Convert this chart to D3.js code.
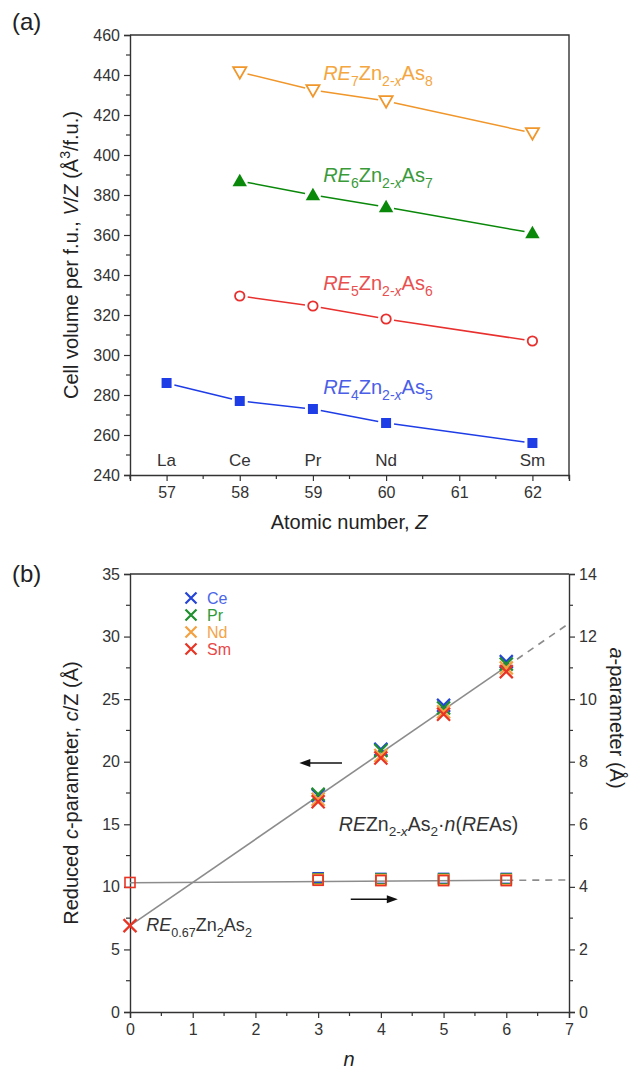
<!DOCTYPE html>
<html>
<head>
<meta charset="utf-8">
<script src="https://cdn.jsdelivr.net/npm/d3@7"></script>
<style>
body{margin:0;background:#fff}
svg{display:block;font-family:"Liberation Sans",Arial,sans-serif}
</style>
</head>
<body>
<svg id="chart" width="642" height="1069"></svg>
<script>
// ---- panel (a) data ----
const elements = ["La","Ce","Pr","Nd","Sm"];
const zAll = [57,58,59,60,62];
const zCeSm = [58,59,60,62];
const vol4 = [286,277,273,266,256];
const vol5 = [329.5,324.5,318,307];
const vol6 = [387,380,374,361];
const vol7 = [441.5,432.5,427,411];
const zTicks = [57,58,59,60,61,62];
const volTicks = [240,260,280,300,320,340,360,380,400,420,440,460];

// ---- panel (b) data ----
const nVals = [3,4,5,6];
const cCe = [17.3,21.0,24.5,28.0];
const cPr = [17.4,20.9,24.3,27.8];
const cNd = [17.0,20.5,24.0,27.5];
const cSm = [16.8,20.3,23.8,27.2];
const aCe = [4.29,4.27,4.27,4.27];
const aPr = [4.26,4.25,4.25,4.25];
const aNd = [4.24,4.23,4.23,4.23];
const aSm = [4.21,4.20,4.20,4.20];
const c0 = 6.9, a0 = 4.14;          // RE0.67Zn2As2, n = 0
const fitN = [0,6,7];
const fitC = [6.9,27.6,31.05];
const fitA = [4.13,4.21,4.22];
const nTicks = [0,1,2,3,4,5,6,7];
const cTicks = [0,5,10,15,20,25,30,35];
const aTicks = [0,2,4,6,8,10,12,14];

const svg = d3.select("#chart");
const ink = "#333";

// rich text helper: parts = [[text, flags]] flags: i italic, s sub, p sup
function rich(g, x, y, parts, size, color, anchor) {
    const t = g.append("text").attr("x", x).attr("y", y)
        .attr("fill", color).style("font-size", size + "px")
        .attr("text-anchor", anchor || "start");
    let off = 0;
    parts.forEach(([txt, f]) => {
        f = f || "";
        let want = f.includes("s") ? size*0.3 : f.includes("p") ? -size*0.4 : 0;
        const sp = t.append("tspan").text(txt).attr("dy", want - off);
        off = want;
        if (f.includes("s") || f.includes("p")) sp.style("font-size", (size*0.7) + "px");
        if (f.includes("i")) sp.style("font-style", "italic");
    });
    return t;
}

function minorTicks(g, vals, pos, horiz, len) {
    vals.forEach(v => {
        const p = pos(v);
        if (horiz) g.append("line").attr("x1", p).attr("x2", p).attr("y1", 0).attr("y2", len);
        else g.append("line").attr("y1", p).attr("y2", p).attr("x1", 0).attr("x2", len);
    });
    g.selectAll("line").attr("stroke", ink).attr("stroke-width", 1.2);
}

function styleAxis(g) {
    g.selectAll(".domain").attr("stroke", ink).attr("stroke-width", 1.4);
    g.selectAll(".tick line").attr("stroke", ink).attr("stroke-width", 1.2);
    g.selectAll(".tick text").attr("fill", ink).style("font-size", "16px")
        .style("font-family", "'Liberation Sans',Arial,sans-serif");
}

// ================= panel (a) =================
const xa = d3.scaleLinear().domain([56.5,62.5]).range([130,569]);
const ya = d3.scaleLinear().domain([240,460]).range([475,35]);

const gaX = svg.append("g").attr("transform","translate(0,475)")
    .call(d3.axisBottom(xa).tickValues(zTicks).tickFormat(d3.format("d")).tickSize(6).tickPadding(6));
styleAxis(gaX);
minorTicks(svg.append("g").attr("transform","translate(0,475)"), [56.5,57.5,58.5,59.5,60.5,61.5,62.5], xa, true, 4);
const gaY = svg.append("g").attr("transform","translate(130,0)")
    .call(d3.axisLeft(ya).tickValues(volTicks).tickSize(6).tickPadding(4));
styleAxis(gaY);
minorTicks(svg.append("g").attr("transform","translate(130,0)"), [250,270,290,310,330,350,370,390,410,430,450], ya, false, -4);
svg.append("path").attr("d", `M130,35H569V475`).attr("fill","none").attr("stroke",ink).attr("stroke-width",1.4);

// lines with small gaps at markers
function gapLine(g, xs, ys, sx, sy, color, gap) {
    for (let i = 0; i < xs.length-1; i++) {
        const x1 = sx(xs[i]), y1 = sy(ys[i]), x2 = sx(xs[i+1]), y2 = sy(ys[i+1]);
        const L = Math.hypot(x2-x1, y2-y1), ux = (x2-x1)/L, uy = (y2-y1)/L;
        g.append("line").attr("x1", x1+ux*gap).attr("y1", y1+uy*gap)
            .attr("x2", x2-ux*gap).attr("y2", y2-uy*gap)
            .attr("stroke", color).attr("stroke-width", 1.5);
    }
}

const series = [
    {z: zAll, v: vol4, col: "#1f3de6", txt: "#4a5ee8", sym: d3.symbolSquare, fill: true, lab: [["RE","i"],["4","s"],["Zn"],["2-","s"],["x","si"],["As"],["5","s"]], ly: 280.5},
    {z: zCeSm, v: vol5, col: "#e8302e", txt: "#e85050", sym: d3.symbolCircle, fill: false, lab: [["RE","i"],["5","s"],["Zn"],["2-","s"],["x","si"],["As"],["6","s"]], ly: 332.5},
    {z: zCeSm, v: vol6, col: "#0a880a", txt: "#3a9a3a", sym: d3.symbolTriangle, fill: true, lab: [["RE","i"],["6","s"],["Zn"],["2-","s"],["x","si"],["As"],["7","s"]], ly: 386.5},
    {z: zCeSm, v: vol7, col: "#f0962a", txt: "#f4a640", sym: d3.symbolTriangle, fill: false, down: true, lab: [["RE","i"],["7","s"],["Zn"],["2-","s"],["x","si"],["As"],["8","s"]], ly: 437.5}
];

series.forEach(s => {
    const g = svg.append("g");
    gapLine(g, s.z, s.v, xa, ya, s.col, 8);
    g.selectAll("path.m").data(s.z).enter().append("path")
        .attr("class","m")
        .attr("d", d3.symbol().type(s.sym).size(s.sym === d3.symbolTriangle ? (s.fill ? 90 : 75) : s.fill ? 100 : 70))
        .attr("transform", (d,i) => `translate(${xa(d)},${ya(s.v[i]) + (s.sym === d3.symbolTriangle ? (s.down ? -1 : 1) : 0)})` + (s.down ? " rotate(180)" : ""))
        .attr("fill", s.fill ? s.col : "#fff")
        .attr("stroke", s.col).attr("stroke-width", s.fill ? 0 : 1.8);
    rich(svg, xa(59.14), ya(s.ly), s.lab, 20, s.txt);
});

// element names
svg.append("g").selectAll("text").data(elements).enter().append("text")
    .attr("x", (d,i) => xa(zAll[i])).attr("y", ya(244.5))
    .attr("text-anchor","middle").attr("fill", ink).style("font-size","17px")
    .text(d => d);

svg.append("text").attr("x", 12).attr("y", 30).style("font-size","24px").attr("fill","#222").text("(a)");
svg.append("text").attr("x", 349).attr("y", 529).attr("text-anchor","middle")
    .style("font-size","20px").attr("fill","#222").text("Atomic number, ").append("tspan").style("font-style","italic").text("Z");
rich(svg, 0, 0, [["Cell volume per f.u., "],["V","i"],["/"],["Z","i"],[" (Å"],["3","p"],["/f.u.)"]], 20, "#222", "middle")
    .attr("transform", "translate(78,255) rotate(-90)");

// ================= panel (b) =================
const xb = d3.scaleLinear().domain([0,7]).range([130,569]);
const yc = d3.scaleLinear().domain([0,35]).range([1012,574]);
const ya2 = d3.scaleLinear().domain([0,14]).range([1012,574]);

const gbX = svg.append("g").attr("transform","translate(0,1012)")
    .call(d3.axisBottom(xb).tickValues(nTicks).tickFormat(d3.format("d")).tickSize(6).tickPadding(6));
styleAxis(gbX);
minorTicks(svg.append("g").attr("transform","translate(0,1012)"), [0.5,1.5,2.5,3.5,4.5,5.5,6.5], xb, true, 4);
const gbY = svg.append("g").attr("transform","translate(130,0)")
    .call(d3.axisLeft(yc).tickValues(cTicks).tickFormat(d3.format("d")).tickSize(6).tickPadding(4));
styleAxis(gbY);
minorTicks(svg.append("g").attr("transform","translate(130,0)"), [2.5,7.5,12.5,17.5,22.5,27.5,32.5], yc, false, -4);
const gbY2 = svg.append("g").attr("transform","translate(569,0)")
    .call(d3.axisRight(ya2).tickValues(aTicks).tickFormat(d3.format("d")).tickSize(6).tickPadding(4));
styleAxis(gbY2);
minorTicks(svg.append("g").attr("transform","translate(569,0)"), [1,3,5,7,9,11,13], ya2, false, 4);
svg.append("line").attr("x1",130).attr("x2",569).attr("y1",574).attr("y2",574).attr("stroke",ink).attr("stroke-width",1.4);

// fit lines
const fitG = svg.append("g").attr("stroke","#8c8c8c").attr("stroke-width",1.6).attr("fill","none");
fitG.append("line").attr("x1", xb(fitN[0])).attr("y1", yc(fitC[0])).attr("x2", xb(fitN[1])).attr("y2", yc(fitC[1]));
fitG.append("line").attr("x1", xb(fitN[1])).attr("y1", yc(fitC[1])).attr("x2", xb(fitN[2])).attr("y2", yc(fitC[2])).attr("stroke-dasharray","7,6");
fitG.append("line").attr("x1", xb(fitN[0])).attr("y1", ya2(fitA[0])).attr("x2", xb(fitN[1])).attr("y2", ya2(fitA[1]));
fitG.append("line").attr("x1", xb(fitN[1])).attr("y1", ya2(fitA[1])).attr("x2", xb(fitN[2])).attr("y2", ya2(fitA[2])).attr("stroke-dasharray","7,6");

const reCols = {Ce: "#2444d8", Pr: "#1f8f2f", Nd: "#f4a040", Sm: "#e83424"};
const reTxt = {Ce: "#4a66e8", Pr: "#2f9a3a", Nd: "#f4a448", Sm: "#e84848"};
const cSets = [["Ce",cCe,aCe],["Pr",cPr,aPr],["Nd",cNd,aNd],["Sm",cSm,aSm]];

function cross(g, x, y, r, col) {
    g.append("path").attr("d", `M${x-r},${y-r}L${x+r},${y+r}M${x-r},${y+r}L${x+r},${y-r}`)
        .attr("stroke", col).attr("stroke-width", 2.2).attr("fill","none");
}
function sq(g, x, y, r, col) {
    g.append("rect").attr("x", x-r).attr("y", y-r).attr("width", 2*r).attr("height", 2*r)
        .attr("fill","none").attr("stroke", col).attr("stroke-width", 1.6);
}

const mk = svg.append("g");
cSets.forEach(([re, cs, as]) => {
    nVals.forEach((n,i) => {
        sq(mk, xb(n), ya2(as[i]), 5, reCols[re]);
    });
});
cSets.forEach(([re, cs, as]) => {
    nVals.forEach((n,i) => {
        cross(mk, xb(n), yc(cs[i]), 6.5, reCols[re]);
    });
});
sq(mk, xb(0), ya2(a0), 5, reCols.Sm);
cross(mk, xb(0), yc(c0), 6.5, reCols.Sm);

// legend
const legY = [598,615,632,649];
cSets.forEach(([re], i) => {
    cross(svg, 191, legY[i], 5.5, reCols[re]);
    svg.append("text").attr("x", 207).attr("y", legY[i] + 6).attr("fill", reTxt[re])
        .style("font-size","16px").text(re);
});

// arrows
function arrow(x1, y1, x2, y2) {
    const dir = Math.sign(x2 - x1);
    svg.append("line").attr("x1", x1).attr("y1", y1).attr("x2", x2 - dir*8).attr("y2", y2)
        .attr("stroke","#111").attr("stroke-width",1.5);
    svg.append("path").attr("d", `M${x2},${y2}L${x2-dir*11},${y2-4}L${x2-dir*11},${y2+4}Z`).attr("fill","#111");
}
arrow(xb(3.38), yc(19.9), xb(2.7), yc(19.9));
arrow(xb(3.52), yc(9.0), xb(4.27), yc(9.0));

// annotations
rich(svg, xb(3.33), yc(14.5), [["RE","i"],["Zn"],["2-","s"],["x","si"],["As"],["2","s"],["·"],["n","i"],["("],["RE","i"],["As)"]], 19.5, "#333");
rich(svg, xb(0.26), yc(6.45), [["RE","i"],["0.67","s"],["Zn"],["2","s"],["As"],["2","s"]], 18, "#333");

svg.append("text").attr("x", 12).attr("y", 582).style("font-size","24px").attr("fill","#222").text("(b)");
svg.append("text").attr("x", 349).attr("y", 1066).attr("text-anchor","middle")
    .style("font-size","20px").style("font-style","italic").attr("fill","#222").text("n");
rich(svg, 0, 0, [["Reduced "],["c","i"],["-parameter, "],["c","i"],["/Z (Å)"]], 20, "#222", "middle")
    .attr("transform", "translate(78,793) rotate(-90)");
rich(svg, 0, 0, [["a","i"],["-parameter (Å)"]], 20, "#222", "middle")
    .attr("transform", "translate(610,718) rotate(90)");
</script>
</body>
</html>
